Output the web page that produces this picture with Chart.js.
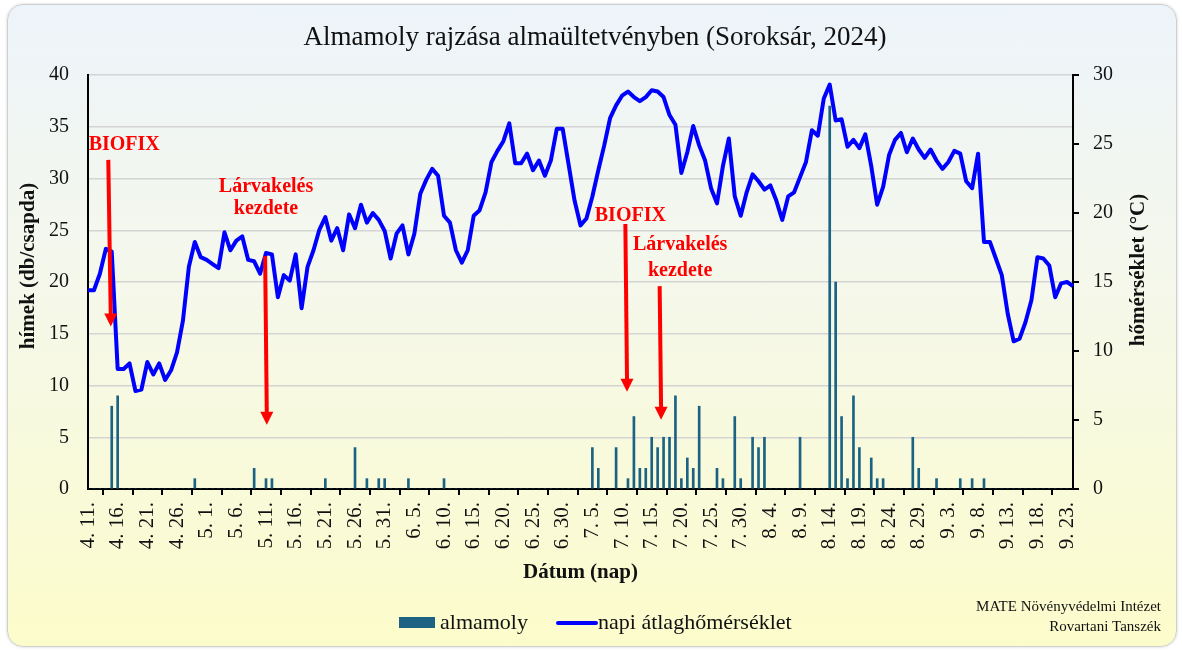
<!DOCTYPE html>
<html>
<head>
<meta charset="utf-8">
<title>Almamoly rajzása</title>
<script src="https://cdn.jsdelivr.net/npm/chart.js@4.4.1/dist/chart.umd.min.js"></script>
<style>
  html, body { margin: 0; padding: 0; background: #fff; }
  #card {
    position: absolute; left: 7px; top: 4px; width: 1168px; height: 641px;
    border: 1px solid #cfcfcf; border-radius: 16px;
    background: linear-gradient(to bottom, #edf4fa 0%, #f5f8ea 45%, #fcfccb 100%);
    box-shadow: 0 0 3px rgba(0,0,0,0.18);
  }
  #wrap { position: absolute; left: 0; top: 0; width: 1182px; height: 650px; }
</style>
</head>
<body>
<div id="card"></div>
<div id="wrap"><canvas id="chart"></canvas></div>
<script>
/* ================= DATA ================= */
// napok: 2024. 04. 11. - 09. 24.
const days = [
  '4.11','4.12','4.13','4.14','4.15','4.16','4.17','4.18','4.19','4.20','4.21','4.22','4.23','4.24','4.25','4.26','4.27','4.28','4.29','4.30',
  '5.1','5.2','5.3','5.4','5.5','5.6','5.7','5.8','5.9','5.10','5.11','5.12','5.13','5.14','5.15','5.16','5.17','5.18','5.19','5.20','5.21','5.22','5.23','5.24','5.25','5.26','5.27','5.28','5.29','5.30','5.31',
  '6.1','6.2','6.3','6.4','6.5','6.6','6.7','6.8','6.9','6.10','6.11','6.12','6.13','6.14','6.15','6.16','6.17','6.18','6.19','6.20','6.21','6.22','6.23','6.24','6.25','6.26','6.27','6.28','6.29','6.30',
  '7.1','7.2','7.3','7.4','7.5','7.6','7.7','7.8','7.9','7.10','7.11','7.12','7.13','7.14','7.15','7.16','7.17','7.18','7.19','7.20','7.21','7.22','7.23','7.24','7.25','7.26','7.27','7.28','7.29','7.30','7.31',
  '8.1','8.2','8.3','8.4','8.5','8.6','8.7','8.8','8.9','8.10','8.11','8.12','8.13','8.14','8.15','8.16','8.17','8.18','8.19','8.20','8.21','8.22','8.23','8.24','8.25','8.26','8.27','8.28','8.29','8.30','8.31',
  '9.1','9.2','9.3','9.4','9.5','9.6','9.7','9.8','9.9','9.10','9.11','9.12','9.13','9.14','9.15','9.16','9.17','9.18','9.19','9.20','9.21','9.22','9.23','9.24'
];

// minden 5. nap felirata
const tickLabels = [
  '4. 11.','4. 16.','4. 21.','4. 26.','5. 1.','5. 6.','5. 11.','5. 16.','5. 21.','5. 26.','5. 31.',
  '6. 5.','6. 10.','6. 15.','6. 20.','6. 25.','6. 30.','7. 5.','7. 10.','7. 15.','7. 20.','7. 25.',
  '7. 30.','8. 4.','8. 9.','8. 14.','8. 19.','8. 24.','8. 29.','9. 3.','9. 8.','9. 13.','9. 18.','9. 23.'
];

// hímek (db/csapda)
const almamoly = [
  0,0,0,0,8,9,0,0,0,0,
  0,0,0,0,0,0,0,0,1,0,
  0,0,0,0,0,0,0,0,2,0,
  1,1,0,0,0,0,0,0,0,0,
  1,0,0,0,0,4,0,1,0,1,
  1,0,0,0,1,0,0,0,0,0,
  1,0,0,0,0,0,0,0,0,0,
  0,0,0,0,0,0,0,0,0,0,
  0,0,0,0,0,4,2,0,0,4,
  0,1,7,2,2,5,4,5,5,9,
  1,3,2,8,0,0,2,1,0,7,
  1,0,5,4,5,0,0,0,0,0,
  5,0,0,0,0,37,20,7,1,9,
  4,0,3,1,1,0,0,0,0,5,
  2,0,0,1,0,0,0,1,0,1,
  0,1,0,0,0,0,0,0,0,0,
  0,0,0,0,0,0,0
];

// napi átlaghőmérséklet (°C)
const homerseklet = [
  14.4,14.4,15.6,17.4,17.2,8.7,8.7,9.1,7.1,7.2,
  9.2,8.3,9.1,7.9,8.6,9.9,12.2,16.1,17.9,16.8,
  16.6,16.3,16.0,18.6,17.3,18.0,18.3,16.6,16.5,15.6,
  17.1,17.0,13.9,15.5,15.1,17.0,13.1,16.1,17.3,18.8,
  19.7,18.0,18.9,17.3,19.9,18.9,20.6,19.3,20.0,19.5,
  18.7,16.7,18.5,19.1,17.0,18.5,21.4,22.4,23.2,22.7,
  19.8,19.3,17.3,16.4,17.3,19.8,20.2,21.5,23.7,24.5,
  25.2,26.5,23.6,23.6,24.3,23.1,23.8,22.7,23.8,26.1,
  26.1,23.5,20.9,19.1,19.6,21.2,23.1,24.9,26.9,27.8,
  28.5,28.8,28.4,28.1,28.4,28.9,28.8,28.4,27.1,26.4,
  22.9,24.4,26.3,24.9,23.8,21.8,20.7,23.4,25.4,21.2,
  19.8,21.5,22.8,22.3,21.7,22.0,20.9,19.5,21.2,21.5,
  22.6,23.7,26.0,25.6,28.3,29.3,26.7,26.8,24.8,25.3,
  24.7,25.7,23.4,20.6,21.9,24.2,25.3,25.8,24.4,25.4,
  24.6,24.0,24.6,23.8,23.2,23.7,24.5,24.3,22.3,21.8,
  24.3,17.9,17.9,16.7,15.5,12.7,10.7,10.9,12.1,13.7,
  16.8,16.7,16.2,13.9,14.9,15.0,14.7
];

// jelölések: nyíl (nap index, bal tengely értéke) + felirat
const markers = [
  { text: ['BIOFIX'], x0: 3.42, top: 31.8, x1: 3.83, tip: 15.7, tx: 6.1, ty: [33.3] },
  { text: ['Lárvakelés', 'kezdete'], x0: 29.85, top: 22.5, x1: 30.13, tip: 6.2, tx: 30.0, ty: [29.2, 27.1] },
  { text: ['BIOFIX'], x0: 90.56, top: 25.6, x1: 90.84, tip: 9.4, tx: 91.4, ty: [26.4] },
  { text: ['Lárvakelés', 'kezdete'], x0: 96.34, top: 19.6, x1: 96.58, tip: 6.7, tx: 99.8, ty: [23.6, 21.1] }
];

/* ================= STYLE ================= */
const SERIF = "'Liberation Serif', 'Times New Roman', serif";
const BAR_COLOR = '#1b6283';
const LINE_COLOR = '#0000ff';
const RED = '#ff0000';

Chart.defaults.font.family = SERIF;
Chart.defaults.color = '#111';

/* ================= DECORATION PLUGIN ================= */
const decor = {
  id: 'decor',
  afterDatasetsDraw(chart) {
    const { ctx, scales } = chart;
    const xs = scales.x, ys = scales.y;
    ctx.save();
    ctx.strokeStyle = RED;
    ctx.fillStyle = RED;
    ctx.lineWidth = 4;
    markers.forEach(m => {
      const xa = xs.getPixelForValue(m.x0), ya = ys.getPixelForValue(m.top);
      const xb = xs.getPixelForValue(m.x1), yb = ys.getPixelForValue(m.tip);
      const head = 13;
      ctx.beginPath();
      ctx.moveTo(xa, ya);
      ctx.lineTo(xb, yb - head + 1);
      ctx.stroke();
      ctx.beginPath();
      ctx.moveTo(xb - 6.5, yb - head);
      ctx.lineTo(xb + 6.5, yb - head);
      ctx.lineTo(xb, yb);
      ctx.closePath();
      ctx.fill();

      ctx.font = 'bold 20px ' + SERIF;
      ctx.textAlign = 'center';
      ctx.textBaseline = 'middle';
      m.text.forEach((t, i) => {
        ctx.fillText(t, xs.getPixelForValue(m.tx), ys.getPixelForValue(m.ty[i]));
      });
    });
    ctx.restore();
  },
  afterDraw(chart) {
    const { ctx, chartArea } = chart;
    ctx.save();
    ctx.fillStyle = '#111';

    // cím
    ctx.font = '27px ' + SERIF;
    ctx.textAlign = 'center';
    ctx.textBaseline = 'middle';
    ctx.fillText('Almamoly rajzása almaültetvényben (Soroksár, 2024)', 595, 38);

    // tengelycímek
    ctx.font = 'bold 21px ' + SERIF;
    ctx.fillText('Dátum (nap)', (chartArea.left + chartArea.right) / 2, 573);

    ctx.save();
    ctx.translate(29, 266);
    ctx.rotate(-Math.PI / 2);
    ctx.fillText('hímek (db/csapda)', 0, 0);
    ctx.restore();

    ctx.save();
    ctx.translate(1139, 270);
    ctx.rotate(-Math.PI / 2);
    ctx.fillText('hőmérséklet (°C)', 0, 0);
    ctx.restore();

    // jelmagyarázat
    const ds = chart.data.datasets;
    ctx.font = '22px ' + SERIF;
    ctx.textAlign = 'left';
    ctx.fillStyle = ds[0].backgroundColor;
    ctx.fillRect(399, 617, 36, 11);
    ctx.fillStyle = '#111';
    ctx.fillText(ds[0].label, 440, 623);

    ctx.strokeStyle = ds[1].borderColor;
    ctx.lineWidth = 4;
    ctx.lineCap = 'round';
    ctx.beginPath();
    ctx.moveTo(558, 623);
    ctx.lineTo(596, 623);
    ctx.stroke();
    ctx.fillText(ds[1].label, 598, 623);

    // forrás
    ctx.font = '15px ' + SERIF;
    ctx.textAlign = 'right';
    ctx.fillText('MATE Növényvédelmi Intézet', 1161, 607);
    ctx.fillText('Rovartani Tanszék', 1161, 627);
    ctx.restore();
  }
};

/* ================= CHART ================= */
new Chart(document.getElementById('chart'), {
  data: {
    labels: days,
    datasets: [
      {
        type: 'bar',
        label: 'almamoly',
        data: almamoly,
        backgroundColor: BAR_COLOR,
        barThickness: 2,
        yAxisID: 'y',
        order: 1
      },
      {
        type: 'line',
        label: 'napi átlaghőmérséklet',
        data: homerseklet,
        borderColor: LINE_COLOR,
        borderWidth: 4,
        pointRadius: 0,
        tension: 0,
        borderJoinStyle: 'round',
        yAxisID: 'y1',
        order: 0
      }
    ]
  },
  options: {
    responsive: true,
    maintainAspectRatio: false,
    animation: false,
    layout: { padding: { top: 75, left: 0, right: 0, bottom: 0 } },
    plugins: {
      legend: { display: false },
      title: { display: false },
      tooltip: { enabled: false }
    },
    scales: {
      x: {
        type: 'category',
        offset: false,
        grid: { drawOnChartArea: false, drawTicks: true, tickLength: 6, color: '#000', lineWidth: 2 },
        border: { color: '#000', width: 2 },
        ticks: {
          autoSkip: false,
          minRotation: 90,
          maxRotation: 90,
          padding: 7,
          color: '#111',
          font: { size: 21 },
          callback: (v, i) => (i % 5 === 0 ? tickLabels[i / 5] : null)
        },
        afterFit: s => { s.height = 161; }
      },
      y: {
        position: 'left',
        min: 0,
        max: 40,
        grid: { color: '#d4d4d4', lineWidth: 1.5, drawTicks: false },
        border: { color: '#000', width: 2 },
        ticks: { stepSize: 5, padding: 19, color: '#111', font: { size: 20 } },
        afterFit: s => { s.width = 88; }
      },
      y1: {
        position: 'right',
        min: 0,
        max: 30,
        grid: { drawOnChartArea: false, drawTicks: true, tickLength: 6, color: '#000', lineWidth: 2 },
        border: { color: '#000', width: 2 },
        ticks: { stepSize: 5, padding: 14, color: '#111', font: { size: 20 } },
        afterFit: s => { s.width = 109; }
      }
    }
  },
  plugins: [decor]
});
</script>
</body>
</html>
